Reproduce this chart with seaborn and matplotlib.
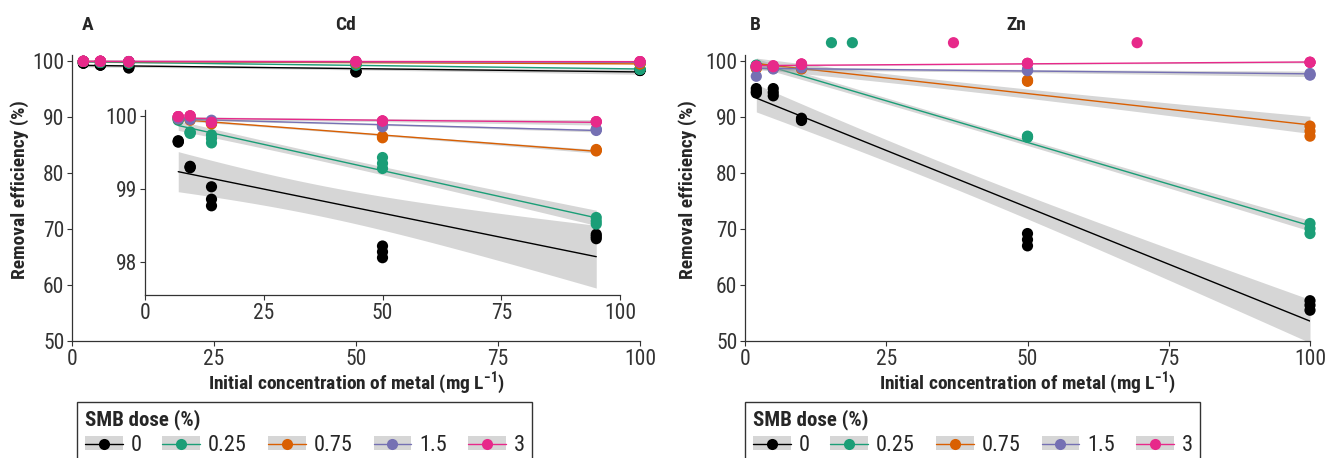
import numpy as np
import pandas as pd
import matplotlib
matplotlib.use("Agg")
import matplotlib.pyplot as plt
import seaborn as sns
from matplotlib.lines import Line2D
from matplotlib.patches import Patch
from matplotlib.legend_handler import HandlerTuple

# SMB doses and Dark2 colours
doses = ["0", "0.25", "0.75", "1.5", "3"]
colors = ["#000000", "#1b9e77", "#d95f02", "#7570b3", "#e7298a"]

# Initial concentration (mg/L), 3 replicates each
conc = [2, 5, 10, 50, 100]
cd_inset_conc = [7, 9.5, 14, 50, 95]

# Cd removal efficiency (%) per dose, replicates in order of conc
cd_0 = [99.66, 99.65, 99.64, 99.31, 99.30, 99.29, 99.03, 98.86, 98.77, 98.22, 98.14, 98.06, 98.38, 98.35, 98.32]
cd_025 = [99.96, 99.95, 99.94, 99.78, 99.77, 99.76, 99.74, 99.69, 99.63, 99.43, 99.35, 99.28, 98.61, 98.56, 98.52]
cd_075 = [99.98, 99.97, 99.96, 99.96, 99.95, 99.94, 99.91, 99.90, 99.89, 99.72, 99.71, 99.70, 99.54, 99.53, 99.52]
cd_15 = [99.98, 99.97, 99.96, 99.97, 99.96, 99.95, 99.94, 99.93, 99.92, 99.87, 99.86, 99.85, 99.82, 99.81, 99.80]
cd_3 = [99.99, 99.99, 99.99, 100.0, 100.0, 100.0, 99.91, 99.91, 99.91, 99.93, 99.93, 99.93, 99.92, 99.92, 99.92]

# Zn removal efficiency (%)
zn_0 = [95.1, 94.6, 94.3, 95.1, 94.4, 93.8, 89.8, 89.6, 89.4, 69.2, 68.1, 67.0, 57.2, 56.4, 55.5]
zn_025 = [99.3, 99.2, 99.1, 99.0, 98.9, 98.8, None, None, None, 86.6, 86.5, 86.4, 71.0, 70.1, 69.2]
zn_075 = [98.9, 98.8, 98.7, 98.9, 98.8, 98.7, 98.8, 98.7, 98.6, 96.6, 96.5, 96.4, 88.4, 87.5, 86.6]
zn_15 = [97.3, 98.9, 99.0, 98.8, 98.7, 98.6, 99.0, 98.9, 98.8, 98.5, 98.4, 98.3, 97.8, 97.6, 97.5]
zn_3 = [99.1, 99.1, 99.1, 99.2, 99.1, 99.0, 99.5, 99.5, 99.4, 99.6, 99.6, 99.6, 99.8, 99.8, 99.8]

# Zn points drawn above the panel
zn_extra_conc = [15.3, 19.0, 36.9, 69.4]
zn_extra_dose = ["0.25", "0.25", "3", "3"]
zn_extra_eff = [103.3, 103.3, 103.3, 103.3]


def long_table(series, x):
    rows = []
    for dose, vals in zip(doses, series):
        for i, v in enumerate(vals):
            if v is not None:
                rows.append({"dose": dose, "conc": x[i // 3], "eff": v})
    return pd.DataFrame(rows)


cd_df = long_table([cd_0, cd_025, cd_075, cd_15, cd_3], conc)
cd_inset_df = long_table([cd_0, cd_025, cd_075, cd_15, cd_3], cd_inset_conc)
zn_df = long_table([zn_0, zn_025, zn_075, zn_15, zn_3], conc)
zn_extra = pd.DataFrame({"dose": zn_extra_dose, "conc": zn_extra_conc, "eff": zn_extra_eff})

sns.set_style("ticks")
plt.rcParams["font.family"] = ["Roboto Condensed", "Liberation Sans", "DejaVu Sans"]
plt.rcParams["mathtext.fontset"] = "custom"
plt.rcParams["mathtext.rm"] = "Roboto Condensed"
plt.rcParams["mathtext.bf"] = "Roboto Condensed:bold"

tick_col = "#333333"
palette = dict(zip(doses, colors))


def t95(df):
    # Cornish-Fisher approximation of the 97.5% t quantile
    z = 1.959964
    return z + (z**3 + z) / (4 * df) + (5 * z**5 + 16 * z**3 + 3 * z) / (96 * df**2)


def smooth_band(ax, x, y, z):
    # lm fit with 95% confidence ribbon, like ggplot's geom_smooth(method = "lm")
    x = np.asarray(x, float)
    y = np.asarray(y, float)
    n = len(x)
    b, a = np.polyfit(x, y, 1)
    resid = y - (a + b * x)
    s = np.sqrt((resid**2).sum() / (n - 2))
    xs = np.linspace(x.min(), x.max(), 80)
    se = s * np.sqrt(1 / n + (xs - x.mean())**2 / ((x - x.mean())**2).sum())
    fit = a + b * xs
    ax.fill_between(xs, fit - t95(n - 2) * se, fit + t95(n - 2) * se,
                    color="#999999", alpha=0.4, lw=0, zorder=z)


def draw(ax, df, extra=None):
    for i, dose in enumerate(doses):
        sub = df[df["dose"] == dose]
        smooth_band(ax, sub["conc"], sub["eff"], 1 + 0.02 * i)
        sns.regplot(data=sub, x="conc", y="eff", ax=ax, scatter=False, ci=None,
                    color=palette[dose], line_kws={"lw": 1.0, "zorder": 1.01 + 0.02 * i})
    sns.scatterplot(data=df, x="conc", y="eff", hue="dose", palette=palette, ax=ax,
                    s=65, linewidth=0, legend=False, zorder=3, clip_on=False)
    if extra is not None:
        sns.scatterplot(data=extra, x="conc", y="eff", hue="dose", palette=palette, ax=ax,
                        s=65, linewidth=0, legend=False, zorder=3, clip_on=False)
    sns.despine(ax=ax)
    ax.tick_params(labelsize=15.5, colors=tick_col, labelcolor=tick_col, length=3.5, width=0.8, pad=2)
    for sp in ["left", "bottom"]:
        ax.spines[sp].set_color(tick_col)
        ax.spines[sp].set_linewidth(0.9)
    ax.set_xlabel("")
    ax.set_ylabel("")


fig = plt.figure(figsize=(13.25, 4.58), dpi=100)
W, H = 1325, 458


def add_ax(x0, y0, x1, y1):
    return fig.add_axes([x0 / W, 1 - y1 / H, (x1 - x0) / W, (y1 - y0) / H])


ax_cd = add_ax(72, 55, 640, 341)
ax_zn = add_ax(745, 55, 1310, 341)
ax_in = add_ax(145, 110, 620, 295)

draw(ax_cd, cd_df)
draw(ax_zn, zn_df, zn_extra)
draw(ax_in, cd_inset_df)

for ax in [ax_cd, ax_zn]:
    ax.set_xlim(0, 100)
    ax.set_ylim(50, 101.1)
    ax.set_xticks([0, 25, 50, 75, 100])
    ax.set_yticks([50, 60, 70, 80, 90, 100])

ax_in.set_xlim(0, 100)
ax_in.set_ylim(97.55, 100.08)
ax_in.set_xticks([0, 25, 50, 75, 100])
ax_in.set_yticks([98, 99, 100])

xlab = r"Initial concentration of metal (mg L$^{\mathbf{-1}}$)"
for x_mid, x_ylab, letter, x_letter, metal in [(356, 20, "A", 88, "Cd"), (1027, 688, "B", 755, "Zn")]:
    fig.text(x_mid / W, 1 - 383 / H, xlab, ha="center", va="center", fontsize=14, fontweight="bold")
    fig.text(x_ylab / W, 1 - 190 / H, "Removal efficiency (%)", ha="center", va="center",
             rotation=90, fontsize=14, fontweight="bold")
    fig.text(x_letter / W, 1 - 25 / H, letter, ha="center", va="center", fontsize=14, fontweight="bold")
    fig.text((x_mid - 11) / W, 1 - 25 / H, metal, ha="center", va="center", fontsize=14, fontweight="bold")

# legend keys: grey ribbon + line + point
handles = [(Patch(facecolor="#999999", alpha=0.4, edgecolor="none"),
            Line2D([], [], color=c, lw=1.0, marker="o", markersize=8, markeredgewidth=0))
           for c in colors]
for x_left in [77, 745]:
    leg = fig.legend(handles, doses, loc="upper left", bbox_to_anchor=(x_left / W, 1 - 402 / H),
                     ncol=5, title="SMB dose (%)", fontsize=16, frameon=True, fancybox=False,
                     title_fontproperties={"weight": "bold", "size": 15},
                     edgecolor="black", handlelength=1.7, handleheight=0.55, handletextpad=0.35,
                     columnspacing=0.95, borderpad=0.35, borderaxespad=0, labelspacing=0.2,
                     handler_map={tuple: HandlerTuple(ndivide=1, pad=0)}, alignment="left")
    leg.get_frame().set_linewidth(1.0)

fig.savefig("out.png", dpi=100)
